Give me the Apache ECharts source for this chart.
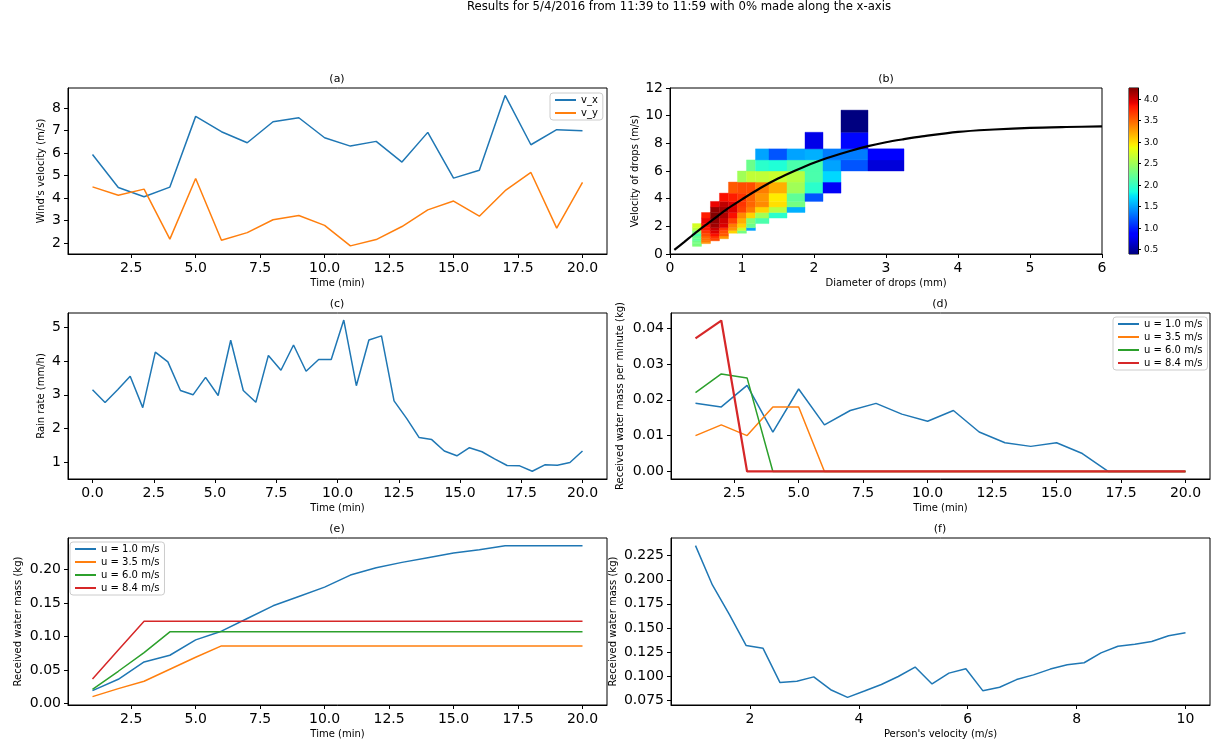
<!DOCTYPE html>
<html><head><meta charset="utf-8">
<script src="https://cdn.jsdelivr.net/npm/echarts@6/dist/echarts.min.js"></script>
<style>html,body{margin:0;padding:0;background:#fff}#c{width:1212px;height:744px}</style>
</head><body><div id="c"></div>
<script>
// ---------- data ----------
const minutes = [1,2,3,4,5,6,7,8,9,10,11,12,13,14,15,16,17,18,19,20];
const windVx = [5.94,4.47,4.06,4.49,7.63,6.95,6.46,7.39,7.57,6.68,6.31,6.52,5.60,6.92,4.89,5.24,8.56,6.37,7.04,6.99];
const windVy = [4.50,4.13,4.40,2.18,4.87,2.13,2.47,3.04,3.23,2.79,1.88,2.16,2.74,3.48,3.87,3.20,4.33,5.14,2.67,4.70];

const rainTime = [0,0.513,1.026,1.538,2.051,2.564,3.077,3.590,4.103,4.615,5.128,5.641,6.154,6.667,7.179,7.692,8.205,8.718,9.231,9.744,10.256,10.769,11.282,11.795,12.308,12.821,13.333,13.846,14.359,14.872,15.385,15.897,16.410,16.923,17.436,17.949,18.462,18.974,19.487,20];
const rainRate = [3.15,2.77,3.15,3.55,2.62,4.27,3.98,3.13,3.00,3.52,2.98,4.62,3.13,2.78,4.17,3.73,4.48,3.70,4.05,4.05,5.22,3.27,4.63,4.75,2.82,2.30,1.73,1.67,1.33,1.19,1.43,1.31,1.10,0.90,0.89,0.73,0.92,0.91,0.99,1.33];

const speedNames = ['u = 1.0 m/s','u = 3.5 m/s','u = 6.0 m/s','u = 8.4 m/s'];
const perMinU10 = [0.019,0.018,0.024,0.011,0.023,0.013,0.017,0.019,0.016,0.014,0.017,0.011,0.008,0.007,0.008,0.005,0,0,0,0];
const perMinU35 = [0.010,0.013,0.010,0.018,0.018,0,0,0,0,0,0,0,0,0,0,0,0,0,0,0];
const perMinU60 = [0.022,0.0272,0.0261,0,0,0,0,0,0,0,0,0,0,0,0,0,0,0,0,0];
const perMinU84 = [0.0371,0.0421,0,0,0,0,0,0,0,0,0,0,0,0,0,0,0,0,0,0];

const cumU10 = [0.019,0.036,0.062,0.072,0.095,0.108,0.127,0.146,0.160,0.174,0.192,0.203,0.211,0.218,0.225,0.230,0.236,0.236,0.236,0.236];
const cumU35 = [0.010,0.022,0.033,0.051,0.069,0.086,0.086,0.086,0.086,0.086,0.086,0.086,0.086,0.086,0.086,0.086,0.086,0.086,0.086,0.086];
const cumU60 = [0.021,0.048,0.076,0.107,0.107,0.107,0.107,0.107,0.107,0.107,0.107,0.107,0.107,0.107,0.107,0.107,0.107,0.107,0.107,0.107];
const cumU84 = [0.0364,0.080,0.123,0.123,0.123,0.123,0.123,0.123,0.123,0.123,0.123,0.123,0.123,0.123,0.123,0.123,0.123,0.123,0.123,0.123];

const personVel = [1,1.310,1.621,1.931,2.241,2.552,2.862,3.172,3.483,3.793,4.103,4.414,4.724,5.034,5.345,5.655,5.966,6.276,6.586,6.897,7.207,7.517,7.828,8.138,8.448,8.759,9.069,9.379,9.690,10];
const totalMass = [0.2355,0.1946,0.164,0.1316,0.1288,0.0932,0.0946,0.0991,0.0858,0.0778,0.0844,0.0912,0.0995,0.1093,0.0918,0.1030,0.1075,0.0848,0.0883,0.0963,0.1012,0.1072,0.1117,0.1138,0.1240,0.1310,0.1330,0.1358,0.1418,0.1450];

// drop size / velocity histogram (b)
const diamEdges = [0.312,0.437,0.562,0.687,0.812,0.937,1.062,1.187,1.375,1.625,1.875,2.125,2.375,2.75,3.25];
const velEdges = [0.55,0.65,0.75,0.85,0.95,1.1,1.3,1.5,1.7,1.9,2.2,2.6,3.0,3.4,3.8,4.4,5.2,6.0,6.8,7.6,8.8,10.4];
const dsdStartRow = [0,2,4,5,7,7,8,10,11,12,14,15,17,17];
const dsdValues = [
  [2.35,2.3,2.3,2.3,2.2,2.25,2.1,2.35,2.6,2.75],
  [3.3,3.4,3.45,3.5,3.6,3.7,3.8,3.85,3.9,3.8],
  [3.6,3.7,3.85,3.95,4.0,4.15,4.2,4.25,4.2,3.9],
  [3.3,3.55,3.6,3.7,3.95,4.0,4.1,4.15,4.05,3.85],
  [3.05,3.3,3.4,3.65,3.85,3.95,3.95,3.8,3.55],
  [2.3,2.7,3.05,3.2,3.35,3.65,3.7,3.7,3.6,2.5],
  [1.5,2.25,2.35,3.05,3.4,3.5,3.5,3.6,2.65,2.25],
  [2.1,2.5,3.05,3.35,3.3,3.4,2.65,1.95,1.5],
  [1.95,2.6,3.0,2.95,3.2,2.7,1.9,1.2],
  [1.55,2.3,2.2,2.5,2.6,2.1,1.5],
  [1.2,1.95,2.1,2.1,1.55,0.75],
  [0.8,1.7,1.5,1.35],
  [1.2,1.35,0.9,0.4],
  [0.7,0.85]
];
const fallCurveD = [0.06,0.2,0.3,0.45,0.6,0.8,1.0,1.25,1.5,1.75,2.0,2.25,2.5,2.75,3.0,3.25,3.5,4.0,4.5,5.0,5.5,6.0];
const fallCurveV = [0.3,0.88,1.3,1.92,2.5,3.28,3.95,4.75,5.45,6.05,6.6,7.05,7.45,7.8,8.08,8.3,8.5,8.83,9.0,9.12,9.18,9.22];
const colorRange = [0.40, 4.26];
const colorbarTicks = [0.5,1.0,1.5,2.0,2.5,3.0,3.5,4.0];

// tick labels
const timeTicks = [2.5,5,7.5,10,12.5,15,17.5,20];
const rainTimeTicks = [0,2.5,5,7.5,10,12.5,15,17.5,20];

// ---------- helpers ----------
const FONT = 'DejaVu Sans';
const C = ['#1f77b4','#ff7f0e','#2ca02c','#d62728'];
const zip = (a,b) => a.map((v,i)=>[v,b[i]]);

const jetSeg = {
  r:[[0,0],[0.35,0],[0.66,1],[0.89,1],[1,0.5]],
  g:[[0,0],[0.125,0],[0.375,1],[0.64,1],[0.91,0],[1,0]],
  b:[[0,0.5],[0.11,1],[0.34,1],[0.65,0],[1,0]]
};
function segVal(seg,t){
  t = Math.max(0,Math.min(1,t));
  for (let i=0;i<seg.length-1;i++){
    const a=seg[i], b=seg[i+1];
    if (t<=b[0]) return a[1]+(b[1]-a[1])*(t-a[0])/(b[0]-a[0]);
  }
  return seg[seg.length-1][1];
}
function jet(t){
  const r=Math.round(255*segVal(jetSeg.r,t)), g=Math.round(255*segVal(jetSeg.g,t)), b=Math.round(255*segVal(jetSeg.b,t));
  return `rgb(${r},${g},${b})`;
}

const dsdCells = [];
dsdValues.forEach((col,ci)=>col.forEach((v,k)=>dsdCells.push([ci, dsdStartRow[ci]+k, v])));

function xAx(gi, min, max, ticks, fmt, name, gap, extra){
  return Object.assign({
    type:'value', gridIndex:gi, min, max, name, nameLocation:'middle', nameGap:gap,
    nameTextStyle:{fontFamily:FONT,fontSize:10,color:'#000'},
    axisLine:{show:true,onZero:false,lineStyle:{color:'#000',width:1}},
    axisTick:{show:true,length:4,customValues:ticks,lineStyle:{color:'#000'}},
    axisLabel:{show:true,customValues:ticks,formatter:fmt,fontFamily:FONT,fontSize:14,color:'#000',margin:7},
    splitLine:{show:false}
  }, extra||{});
}
const f1 = v=>Number(v).toFixed(1), f0 = v=>String(Math.round(v)), f2=v=>Number(v).toFixed(2), f3=v=>Number(v).toFixed(3);

const grids = [
  {left:68, top:88, width:539, height:166},
  {left:670, top:88, width:432, height:166},
  {left:1129, top:88, width:9, height:166},
  {left:68, top:313, width:539, height:166},
  {left:671, top:313, width:539, height:166},
  {left:68, top:538, width:539, height:167},
  {left:671, top:538, width:539, height:167}
].map(g=>Object.assign({show:true,borderColor:'#000',borderWidth:1,backgroundColor:'#fff'},g));

const xAxes = [
  xAx(0,0.05,20.95,timeTicks,f1,'Time (min)',24),
  xAx(1,0,6,[0,1,2,3,4,5,6],f0,'Diameter of drops (mm)',24),
  xAx(2,0,1,[],f0,'',0,{show:false}),
  xAx(3,-1,21,rainTimeTicks,f1,'Time (min)',24),
  xAx(4,0.05,20.95,timeTicks,f1,'Time (min)',24),
  xAx(5,0.05,20.95,timeTicks,f1,'Time (min)',24),
  xAx(6,0.55,10.45,[2,4,6,8,10],f0,"Person's velocity (m/s)",24)
];
const yAxes = [
  xAx(0,1.52,8.89,[2,3,4,5,6,7,8],f0,"Wind's velocity (m/s)",22),
  xAx(1,0,12,[0,2,4,6,8,10,12],f0,'Velocity of drops (m/s)',30),
  xAx(2,colorRange[0],colorRange[1],colorbarTicks,f1,'',0,{position:'right'}),
  xAx(3,0.50,5.43,[1,2,3,4,5],f0,'Rain rate (mm/h)',22),
  xAx(4,-0.0021,0.0442,[0,0.01,0.02,0.03,0.04],f2,'Received water mass per minute (kg)',46),
  xAx(5,-0.0025,0.2475,[0,0.05,0.10,0.15,0.20],f2,'Received water mass (kg)',45),
  xAx(6,0.0699,0.2434,[0.075,0.1,0.125,0.15,0.175,0.2,0.225],f3,'Received water mass (kg)',53)
];
yAxes[2].axisLabel.fontSize = 9;
yAxes[2].axisLabel.margin = 6;
yAxes[2].axisTick.length = 3;

function line(name, xi, xs, ys, color, extra){
  return Object.assign({type:'line', name, xAxisIndex:xi, yAxisIndex:xi, data:zip(xs,ys),
    showSymbol:false, symbol:'none', lineStyle:{color, width:1.5}, itemStyle:{color}, animation:false, z:3}, extra||{});
}

const perMin = [perMinU10, perMinU35, perMinU60, perMinU84];
const cum = [cumU10, cumU35, cumU60, cumU84];

const series = [
  line('v_x',0,minutes,windVx,C[0]),
  line('v_y',0,minutes,windVy,C[1]),
  {
    type:'custom', name:'dsd', xAxisIndex:1, yAxisIndex:1, data:dsdCells, animation:false, z:2,
    renderItem:(params, api)=>{
      const c=api.value(0), r=api.value(1), v=api.value(2);
      const p0=api.coord([diamEdges[c], velEdges[r]]);
      const p1=api.coord([diamEdges[c+1], velEdges[r+1]]);
      const col = jet((v-colorRange[0])/(colorRange[1]-colorRange[0]));
      return {type:'rect', shape:{x:p0[0], y:p1[1], width:p1[0]-p0[0], height:p0[1]-p1[1]},
        style:{fill:col, stroke:col, lineWidth:0.4}};
    }
  },
  line('fall speed',1,fallCurveD,fallCurveV,'#000',{lineStyle:{color:'#000',width:2.2},smooth:0.3,z:4}),
  {
    type:'custom', name:'colorbar', xAxisIndex:2, yAxisIndex:2, data:[[0, colorRange[0], 1, colorRange[1]]], animation:false,
    renderItem:(params, api)=>{
      const p0=api.coord([api.value(0), api.value(1)]);
      const p1=api.coord([api.value(2), api.value(3)]);
      const stops=[0,0.11,0.125,0.34,0.35,0.375,0.5,0.64,0.65,0.66,0.8,0.89,0.91,1].map(t=>({offset:t,color:jet(t)}));
      return {type:'rect', shape:{x:p0[0], y:p1[1], width:p1[0]-p0[0], height:p0[1]-p1[1]},
        style:{fill:{type:'linear',x:0,y:1,x2:0,y2:0,colorStops:stops}}};
    }
  },
  line('rain',3,rainTime,rainRate,C[0])
];
speedNames.forEach((n,i)=>series.push(line(n,4,minutes,perMin[i],C[i],{z:3+i, lineStyle:{color:C[i], width:i===3?2.2:1.5}})));
speedNames.forEach((n,i)=>series.push(line(n,5,minutes,cum[i],C[i])));
series.push(line('mass',6,personVel,totalMass,C[0]));

const legendBase = {orient:'vertical', icon:'rect', itemWidth:21, itemHeight:2, itemGap:3,
  padding:[2,5], backgroundColor:'rgba(255,255,255,0.85)', borderColor:'#cccccc', borderWidth:1, borderRadius:3,
  textStyle:{fontFamily:FONT,fontSize:10,color:'#000'}, selectedMode:false, z:10};
const legends = [
  Object.assign({data:['v_x','v_y'], left:550, top:93}, legendBase),
  Object.assign({data:speedNames, left:1113, top:317}, legendBase),
  Object.assign({data:speedNames, left:70, top:542}, legendBase)
];

function txt(x,y,s,size){
  return {type:'text', x, y, silent:true, style:{text:s, fontFamily:FONT, fontSize:size, fill:'#000',
    textAlign:'center', textVerticalAlign:'middle', align:'center', verticalAlign:'middle'}};
}
const graphics = [
  txt(679,7,'Results for 5/4/2016 from 11:39 to 11:59 with 0% made along the x-axis',11.7),
  txt(337,79,'(a)',11), txt(886,79,'(b)',11),
  txt(337,304,'(c)',11), txt(940,304,'(d)',11),
  txt(337,529,'(e)',11), txt(940,529,'(f)',11)
];

const chart = echarts.init(document.getElementById('c'));
chart.setOption({
  animation:false, backgroundColor:'#fff',
  grid:grids, xAxis:xAxes, yAxis:yAxes, series, legend:legends, graphic:graphics
});
</script></body></html>
